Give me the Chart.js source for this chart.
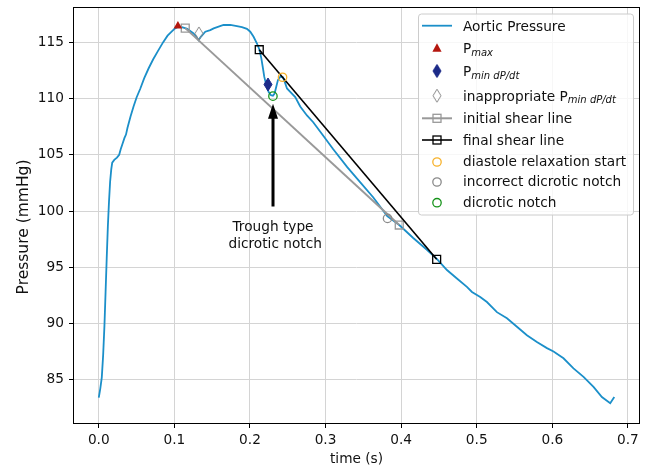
<!DOCTYPE html>
<html>
<head>
<meta charset="utf-8">
<script src="https://cdn.jsdelivr.net/npm/chart.js@4.4.0/dist/chart.umd.min.js"></script>
<style>
  html, body { margin: 0; padding: 0; background: #fff; }
  #wrap { width: 650px; height: 468px; }
</style>
</head>
<body>
<div id="wrap"><canvas id="chart" width="650" height="468"></canvas></div>
<script>
// aortic pressure trace
const timeS = [
  0.000, 0.002, 0.004, 0.0058, 0.0075, 0.009, 0.0105, 0.012, 0.0135, 0.015,
  0.0165, 0.0178, 0.0205, 0.024, 0.027, 0.029, 0.031, 0.034, 0.036, 0.038,
  0.042, 0.046, 0.050, 0.055, 0.060, 0.066, 0.072, 0.078, 0.085, 0.091,
  0.097, 0.101, 0.105, 0.110, 0.117, 0.1254, 0.129, 0.132, 0.135, 0.1409,
  0.1475, 0.152, 0.1585, 0.165, 0.174, 0.1828, 0.1894, 0.196, 0.2004, 0.2048,
  0.2093, 0.2123, 0.215, 0.2172, 0.2189, 0.2216, 0.2246, 0.2278, 0.2304, 0.2326,
  0.2348, 0.237, 0.2401, 0.2437, 0.2467, 0.249, 0.2533, 0.2599, 0.2665, 0.2754,
  0.2837, 0.297, 0.3102, 0.3287, 0.346, 0.3632, 0.3816, 0.3975, 0.416, 0.4341,
  0.4478, 0.4606, 0.4738, 0.487, 0.4937, 0.5046, 0.5135, 0.5267, 0.54, 0.5532,
  0.5664, 0.5796, 0.5929, 0.6016, 0.6148, 0.628, 0.6413, 0.6545, 0.6656, 0.6766,
  0.682
];
const pressure = [
  83.4, 84.2, 85.2, 87.2, 89.8, 92.8, 95.8, 98.6, 100.8, 102.6,
  103.7, 104.3, 104.55, 104.75, 105.0, 105.5, 105.9, 106.5, 106.8, 107.4,
  108.4, 109.3, 110.1, 110.9, 111.8, 112.7, 113.5, 114.2, 115.0, 115.6,
  116.0, 116.25, 116.4, 116.35, 116.2, 115.8, 115.5, 115.2, 115.5, 115.95,
  116.1, 116.25, 116.4, 116.55, 116.55, 116.45, 116.35, 116.2, 115.95, 115.5,
  114.9, 114.4, 113.6, 112.7, 111.95, 111.2, 110.6, 110.3, 110.25, 110.45,
  111.05, 111.65, 111.95, 111.9, 111.35, 110.9, 110.6, 110.13, 109.3, 108.5,
  107.9, 106.7, 105.5, 103.9, 102.55, 101.2, 99.55, 98.75, 97.6, 96.55,
  95.7, 94.75, 94.0, 93.25, 92.8, 92.35, 91.9, 91.0, 90.45, 89.7,
  88.95, 88.35, 87.8, 87.5, 86.9, 86.0, 85.25, 84.35, 83.45, 82.9,
  83.45
];

// detected points
const pMaxT = [0.1047], pMaxP = [116.45];
const pMinDpdtT = [0.2238], pMinDpdtP = [111.26];
const badPMinT = [0.1325], badPMinP = [115.8];
const initShearT = [0.1144, 0.3975], initShearP = [116.27, 98.75];
const finalShearT = [0.2123, 0.447], finalShearP = [114.35, 95.7];
const relaxT = [0.2431], relaxP = [111.9];
const badNotchT = [0.382], badNotchP = [99.34];
const notchT = [0.2304], notchP = [110.22];

// annotation (data units)
const arrowTip = [0.2305, 109.55];
const arrowTail = [0.2305, 100.4];
const noteLines = ['Trough type', ' dicrotic notch'];
const noteY = [98.5, 97.0];

const FONT = "'DejaVu Sans', sans-serif";
const TXT = '#111';
const BLUE = '#1b8fc9';
const RED = '#b5170f';
const NAVY = '#1c2a88';
const GREY = '#999999';
const ORANGE = '#f7b22c';
const GREEN = '#16931a';
const DGREY = '#8a8a8a';

function thinDiamond(w, h, fill, stroke) {
  const c = document.createElement('canvas');
  c.width = w + 2; c.height = h + 2;
  const g = c.getContext('2d');
  g.beginPath();
  g.moveTo(c.width / 2, 1);
  g.lineTo(c.width - 1, c.height / 2);
  g.lineTo(c.width / 2, c.height - 1);
  g.lineTo(1, c.height / 2);
  g.closePath();
  if (fill) { g.fillStyle = fill; g.fill(); }
  g.strokeStyle = stroke; g.lineWidth = 1; g.stroke();
  return c;
}
const navyDiamond = thinDiamond(8, 13, NAVY, NAVY);
const greyDiamond = thinDiamond(8, 13, null, DGREY);

const pts = (xs, ys) => xs.map((x, i) => ({ x: x, y: ys[i] }));

function markerSet(label, xs, ys, style, color, radius, order) {
  return {
    label: label, data: pts(xs, ys), showLine: false,
    pointStyle: style, pointRadius: radius, pointHoverRadius: radius,
    pointBorderColor: color, pointBackgroundColor: 'rgba(0,0,0,0)',
    pointBorderWidth: 1.3, order: order
  };
}

// frame round the plot area, like matplotlib spines, plus the y label
const framePlugin = {
  id: 'frame',
  afterDatasetsDraw(chart) {
    const a = chart.chartArea, ctx = chart.ctx;
    ctx.save();
    ctx.strokeStyle = '#000';
    ctx.lineWidth = 1;
    ctx.strokeRect(Math.round(a.left) + 0.5, Math.round(a.top) + 0.5,
      Math.round(a.right - a.left) - 1, Math.round(a.bottom - a.top) - 1);
    ctx.translate(24, 227);
    ctx.rotate(-Math.PI / 2);
    ctx.font = '15.5px ' + FONT;
    ctx.fillStyle = TXT;
    ctx.textAlign = 'center';
    ctx.textBaseline = 'middle';
    ctx.fillText('Pressure (mmHg)', 0, 0);
    ctx.restore();
  }
};

const notePlugin = {
  id: 'note',
  afterDatasetsDraw(chart) {
    const x = chart.scales.x, y = chart.scales.y, ctx = chart.ctx;
    const px = x.getPixelForValue(arrowTip[0]);
    const tipY = y.getPixelForValue(arrowTip[1]);
    const tailY = y.getPixelForValue(arrowTail[1]);
    const headLen = 15, headW = 5, shaftW = 1.5;
    ctx.save();
    ctx.fillStyle = '#000';
    ctx.beginPath();
    ctx.moveTo(px, tipY);
    ctx.lineTo(px + headW, tipY + headLen);
    ctx.lineTo(px + shaftW, tipY + headLen);
    ctx.lineTo(px + shaftW, tailY);
    ctx.lineTo(px - shaftW, tailY);
    ctx.lineTo(px - shaftW, tipY + headLen);
    ctx.lineTo(px - headW, tipY + headLen);
    ctx.closePath();
    ctx.fill();
    ctx.font = '13.7px ' + FONT;
    ctx.fillStyle = TXT;
    ctx.textAlign = 'center';
    ctx.textBaseline = 'middle';
    noteLines.forEach((t, i) => ctx.fillText(t, px, y.getPixelForValue(noteY[i])));
    ctx.restore();
  }
};

// legend drawn by hand so it can carry subscripts and line+marker handles
const legendRows = [
  { kind: 'line', color: BLUE, text: [['Aortic Pressure']] },
  { kind: 'tri', color: RED, text: [['P'], ['max', 1]] },
  { kind: 'img', img: navyDiamond, text: [['P'], ['min dP/dt', 1]] },
  { kind: 'img', img: greyDiamond, text: [['inappropriate P'], ['min dP/dt', 1]] },
  { kind: 'lineSq', color: GREY, width: 2, text: [['initial shear line']] },
  { kind: 'lineSq', color: '#000', width: 1.6, text: [['final shear line']] },
  { kind: 'circ', color: ORANGE, text: [['diastole relaxation start']] },
  { kind: 'circ', color: DGREY, text: [['incorrect dicrotic notch']] },
  { kind: 'circ', color: GREEN, text: [['dicrotic notch']] }
];
const legendRowY = [25.7, 48.3, 71, 95.7, 118.3, 140, 161, 181, 201.7];

const legendPlugin = {
  id: 'handLegend',
  afterDraw(chart) {
    const ctx = chart.ctx;
    const a = chart.chartArea;
    const bx = 418, by = 13.5, bw = a.right - 7 - bx, bh = 201;
    ctx.save();
    ctx.beginPath();
    ctx.roundRect(bx + 0.5, by + 0.5, bw, bh, 3);
    ctx.fillStyle = 'rgba(255,255,255,0.8)';
    ctx.fill();
    ctx.strokeStyle = '#cccccc';
    ctx.lineWidth = 1;
    ctx.stroke();

    const hx0 = 422, hx1 = 452, hc = 437, tx = 463;
    legendRows.forEach((row, i) => {
      const cy = legendRowY[i];
      if (row.kind === 'line' || row.kind === 'lineSq') {
        ctx.strokeStyle = row.color;
        ctx.lineWidth = row.width || 1.8;
        ctx.beginPath(); ctx.moveTo(hx0, cy); ctx.lineTo(hx1, cy); ctx.stroke();
        if (row.kind === 'lineSq') {
          ctx.lineWidth = 1.3;
          ctx.strokeRect(hc - 4, cy - 4, 8, 8);
        }
      } else if (row.kind === 'tri') {
        ctx.fillStyle = row.color;
        ctx.beginPath();
        ctx.moveTo(hc, cy - 5); ctx.lineTo(hc + 4.6, cy + 3.5); ctx.lineTo(hc - 4.6, cy + 3.5);
        ctx.closePath(); ctx.fill();
      } else if (row.kind === 'img') {
        ctx.drawImage(row.img, hc - row.img.width / 2, cy - row.img.height / 2);
      } else if (row.kind === 'circ') {
        ctx.strokeStyle = row.color;
        ctx.lineWidth = 1.3;
        ctx.beginPath(); ctx.arc(hc, cy + 1, 4.2, 0, Math.PI * 2); ctx.stroke();
      }
      let x = tx;
      const base = cy + 5;
      ctx.fillStyle = TXT;
      ctx.textAlign = 'left';
      ctx.textBaseline = 'alphabetic';
      row.text.forEach(seg => {
        if (seg[1]) {
          ctx.font = 'italic 10px ' + FONT;
          ctx.fillText(seg[0], x, base + 2.5);
        } else {
          ctx.font = '13.7px ' + FONT;
          ctx.fillText(seg[0], x, base);
        }
        x += ctx.measureText(seg[0]).width;
      });
    });
    ctx.restore();
  }
};

Chart.defaults.font.family = FONT;
Chart.defaults.color = TXT;

new Chart(document.getElementById('chart'), {
  type: 'scatter',
  data: {
    datasets: [
      { label: 'Aortic Pressure', data: pts(timeS, pressure), showLine: true,
        borderColor: BLUE, borderWidth: 1.8, pointRadius: 0, pointHoverRadius: 0,
        tension: 0, order: 10 },
      { label: 'initial shear line', data: pts(initShearT, initShearP), showLine: true,
        borderColor: GREY, borderWidth: 2, pointStyle: 'rect', pointRadius: 5.6,
        pointBorderColor: GREY, pointBackgroundColor: 'rgba(0,0,0,0)', pointBorderWidth: 1.3, order: 6 },
      { label: 'final shear line', data: pts(finalShearT, finalShearP), showLine: true,
        borderColor: '#000', borderWidth: 1.6, pointStyle: 'rect', pointRadius: 5.6,
        pointBorderColor: '#000', pointBackgroundColor: 'rgba(0,0,0,0)', pointBorderWidth: 1.3, order: 5 },
      { label: 'Pmax', data: pts(pMaxT, pMaxP), showLine: false, pointStyle: 'triangle',
        pointRadius: 5, pointBorderColor: RED, pointBackgroundColor: RED, pointBorderWidth: 0, order: 3 },
      { label: 'Pmin dP/dt', data: pts(pMinDpdtT, pMinDpdtP), showLine: false,
        pointStyle: navyDiamond, pointRadius: 5, order: 3 },
      { label: 'inappropriate Pmin dP/dt', data: pts(badPMinT, badPMinP), showLine: false,
        pointStyle: greyDiamond, pointRadius: 5, order: 3 },
      markerSet('diastole relaxation start', relaxT, relaxP, 'circle', ORANGE, 4.2, 2),
      markerSet('incorrect dicrotic notch', badNotchT, badNotchP, 'circle', DGREY, 4.2, 2),
      markerSet('dicrotic notch', notchT, notchP, 'circle', GREEN, 4.2, 2)
    ]
  },
  options: {
    responsive: false,
    animation: false,
    devicePixelRatio: 1,
    layout: { padding: { left: 0, right: 10, top: 7, bottom: 0 } },
    plugins: { legend: { display: false }, tooltip: { enabled: false } },
    scales: {
      x: {
        type: 'linear', min: -0.0341, max: 0.716,
        afterFit: s => { s.height = 44; s.paddingLeft = 0; s.paddingRight = 0; },
        ticks: { stepSize: 0.1, includeBounds: false, maxRotation: 0,
          callback: v => v.toFixed(1), font: { size: 13.7 }, color: TXT, padding: 4 },
        grid: { color: '#d4d4d4', lineWidth: 1, tickColor: '#000', tickLength: 4 },
        border: { display: false },
        title: { display: true, text: 'time (s)', font: { size: 13.7 }, color: TXT,
          padding: { top: 0, bottom: 0 } }
      },
      y: {
        type: 'linear', min: 81.05, max: 118.15,
        afterFit: s => { s.width = 73; s.paddingTop = 0; s.paddingBottom = 0; },
        ticks: { stepSize: 5, includeBounds: false, font: { size: 13.7 }, color: TXT, padding: 5 },
        grid: { color: '#d4d4d4', lineWidth: 1, tickColor: '#000', tickLength: 4 },
        border: { display: false },
        title: { display: false }
      }
    }
  },
  plugins: [framePlugin, notePlugin, legendPlugin]
});
</script>
</body>
</html>
